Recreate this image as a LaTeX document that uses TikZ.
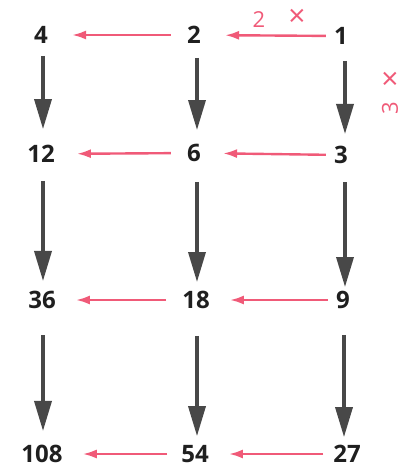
\documentclass[tikz,border=0pt]{standalone}
\usepackage{fontspec}
\setmainfont{Open Sans}
\usetikzlibrary{arrows.meta}
\definecolor{pinkred}{HTML}{F05A78}
\definecolor{darkgr}{HTML}{484848}
\begin{document}
\begin{tikzpicture}[x=1pt,y=-1pt,
  num/.style={font=\fontsize{24}{24}\selectfont\bfseries, inner sep=0pt, text=black!88},
  downarr/.style={draw=darkgr, line width=3.5pt, -{Triangle[length=30pt,width=17pt]}},
  redarr/.style={draw=pinkred, line width=2.4pt, -{Latex[length=14pt,width=9pt]}},
  lbl/.style={text=pinkred, inner sep=0pt, font=\fontsize{22}{22}\selectfont},
  times/.style={text=pinkred, inner sep=0pt, font=\fontsize{30}{30}\selectfont}]
\useasboundingbox[fill=white] (0,0) rectangle (415,471);
% nodes
\node[num] (n4)   at (41,35)  {4};
\node[num] (n2)   at (194,35) {2};
\node[num] (n1)   at (341,36) {1};
\node[num] (n12)  at (41,154) {12};
\node[num] (n6)   at (194,153) {6};
\node[num] (n3)   at (341,155) {3};
\node[num] (n36)  at (42,300) {36};
\node[num] (n18)  at (196,300) {18};
\node[num] (n9)   at (343,300) {9};
\node[num] (n108) at (42,454) {108};
\node[num] (n54)  at (195,454) {54};
\node[num] (n27)  at (347,454) {27};
% labels
\node[lbl] (l2) at (259,20) {2};
\node[times] (lx) at (297,18) {×};
\node[lbl] (l3) at (390,108) [rotate=90] {3};
\node[times] (ly) at (390,81) {×};
% red arrows
\draw[redarr, shorten <=8pt, shorten >=24pt] (n1) -- (n2);
\draw[redarr, shorten <=16pt, shorten >=24pt] (n2) -- (n4);
\draw[redarr, shorten <=8pt, shorten >=22pt] (n3) -- (n6);
\draw[redarr, shorten <=16pt, shorten >=22pt] (n6) -- (n12);
\draw[redarr, shorten <=8pt, shorten >=20pt] (n9) -- (n18);
\draw[redarr, shorten <=16pt, shorten >=20pt] (n18) -- (n36);
\draw[redarr, shorten <=10pt, shorten >=20pt] (n27) -- (n54);
\draw[redarr, shorten <=14pt, shorten >=20pt] (n54) -- (n108);
% gray arrows (vertical, from node to node)
\draw[downarr, shorten <=12pt, shorten >=16pt] ([xshift=2pt]n4.south) -- ([xshift=2pt]n4.south |- n12.north);
\draw[downarr, shorten <=14pt, shorten >=14pt] ([xshift=3pt]n2.south) -- ([xshift=3pt]n2.south |- n6.north);
\draw[downarr, shorten <=16pt, shorten >=12pt] ([xshift=4pt]n1.south) -- ([xshift=4pt]n1.south |- n3.north);
\draw[downarr, shorten <=18pt, shorten >=10pt] ([xshift=2pt]n12.south) -- ([xshift=2pt]n12.south |- n36.north);
\draw[downarr, shorten <=20pt, shorten >=9pt] ([xshift=3pt]n6.south) -- ([xshift=3pt]n6.south |- n18.north);
\draw[downarr, shorten <=18pt, shorten >=4pt] ([xshift=4pt]n3.south) -- ([xshift=4pt]n3.south |- n9.north);
\draw[downarr, shorten <=26pt, shorten >=14pt] ([xshift=1pt]n36.south) -- ([xshift=1pt]n36.south |- n108.north);
\draw[downarr, shorten <=27pt, shorten >=9pt] ([xshift=1pt]n18.south) -- ([xshift=1pt]n18.south |- n54.north);
\draw[downarr, shorten <=26pt, shorten >=8pt] ([xshift=1pt]n9.south) -- ([xshift=1pt]n9.south |- n27.north);
\end{tikzpicture}
\end{document}
